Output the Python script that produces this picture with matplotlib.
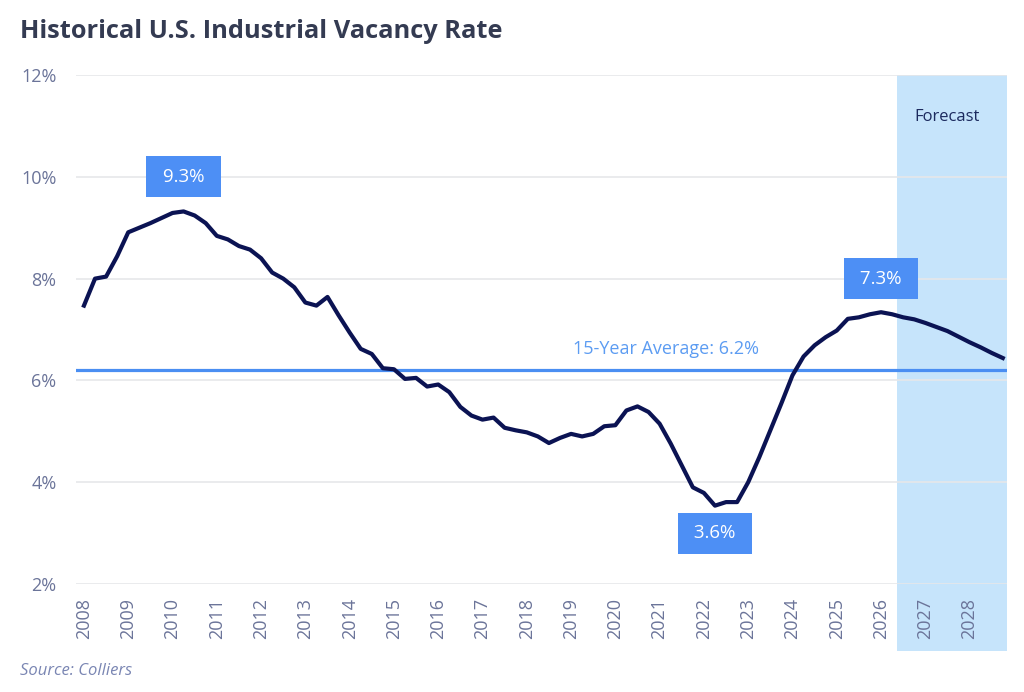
import matplotlib.pyplot as plt
import numpy as np

# Quarterly vacancy rate (%), 2008 Q1 - 2028 Q4 (2026 Q3 onward = forecast)
years = list(range(2008, 2029))
vacancy = [
    7.47, 8.00, 8.04, 8.44,   # 2008
    8.91, 9.00, 9.09, 9.19,   # 2009
    9.29, 9.32, 9.24, 9.09,   # 2010
    8.84, 8.77, 8.64, 8.57,   # 2011
    8.40, 8.12, 8.00, 7.83,   # 2012
    7.53, 7.47, 7.64, 7.28,   # 2013
    6.94, 6.62, 6.52, 6.24,   # 2014
    6.22, 6.03, 6.05, 5.88,   # 2015
    5.92, 5.77, 5.48, 5.31,   # 2016
    5.23, 5.27, 5.07, 5.02,   # 2017
    4.98, 4.90, 4.77, 4.87,   # 2018
    4.95, 4.90, 4.95, 5.10,   # 2019
    5.12, 5.41, 5.49, 5.38,   # 2020
    5.15, 4.76, 4.33, 3.90,   # 2021
    3.79, 3.54, 3.61, 3.61,   # 2022
    4.00, 4.49, 5.02, 5.55,   # 2023
    6.10, 6.47, 6.69, 6.85,   # 2024
    6.98, 7.21, 7.24, 7.30,   # 2025
    7.34, 7.30, 7.24, 7.20,   # 2026
    7.13, 7.05, 6.97, 6.86,   # 2027
    6.75, 6.65, 6.54, 6.44,   # 2028
]
avg_15yr = 6.2
forecast_start, forecast_end = 2026.35, 2028.84
callouts = [(2010.25, 10.0, '9.3%'), (2026.0, 8.0, '7.3%'), (2022.25, 3.0, '3.6%')]

x = 2008 + np.arange(len(vacancy)) / 4

plt.rcParams['font.family'] = ['Open Sans', 'DejaVu Sans']

fig = plt.figure(figsize=(10.24, 6.92), dpi=100)
ax = fig.add_axes([0.0742, 0.156, 0.909, 0.7356])

label_color = '#6b7499'

# forecast shading runs down behind the year labels
ax.axvspan(forecast_start, forecast_end, ymin=-0.132, ymax=1.0,
           color='#c6e4fb', lw=0, zorder=0, clip_on=False)
ax.text(2027.48, 11.17, 'Forecast', ha='center', va='center',
        fontsize=12, color='#1c2a5e')

ax.axhline(avg_15yr, color='#4a8ef2', lw=2.3, zorder=2)
ax.text(2021.15, 6.62, '15-Year Average: 6.2%', ha='center', va='center',
        fontsize=13, color='#5c9cf2')

ax.plot(x, vacancy, color='#0b1353', lw=3, zorder=3, solid_joinstyle='round')

for cx, cy, txt in callouts:
    ax.text(cx, cy, ' ' + txt + ' ', ha='center', va='center', fontsize=13.5,
            color='white', zorder=4,
            bbox=dict(boxstyle='square,pad=0.62', fc='#4d8ff5', ec='none'))

ax.set_xlim(2007.82, 2028.84)
ax.set_ylim(2, 12)
ax.set_yticks(range(2, 13, 2))
ax.set_yticklabels([f'{v}%' for v in range(2, 13, 2)])
ax.set_xticks(years)
ax.set_xticklabels([str(y) for y in years], rotation=90)
ax.tick_params(axis='both', length=0, labelsize=13, labelcolor=label_color)
ax.tick_params(axis='y', pad=14)
ax.tick_params(axis='x', pad=10)
ax.grid(axis='y', color='#e6e7ea', lw=1.2)
ax.set_axisbelow(True)
for s in ax.spines.values():
    s.set_visible(False)

fig.text(0.0195, 0.955, 'Historical U.S. Industrial Vacancy Rate', fontsize=18.3,
         fontweight='bold', color='#343b52', va='center', ha='left')
fig.text(0.0195, 0.03, 'Source: Colliers', fontsize=12, style='italic',
         color='#7a86b3', va='center', ha='left')

fig.savefig('out.png', dpi=100)
